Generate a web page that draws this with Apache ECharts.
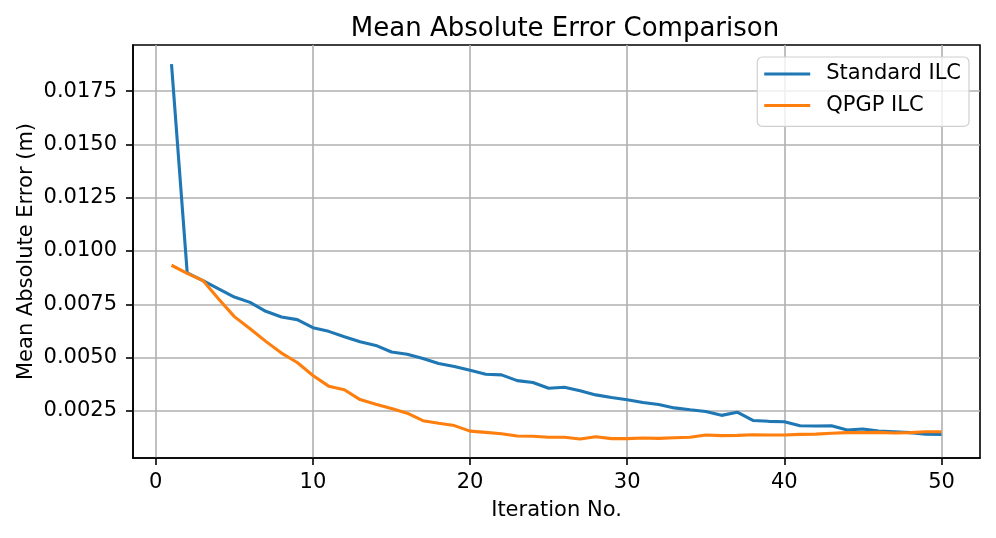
<!DOCTYPE html>
<html>
<head>
<meta charset="utf-8">
<script src="https://cdn.jsdelivr.net/npm/echarts@6/dist/echarts.min.js"></script>
<style>
html,body{margin:0;padding:0;background:#fff;}
#chart{width:996px;height:538px;}
</style>
</head>
<body>
<div id="chart"></div>
<script>
const iterations = Array.from({length: 50}, (_, i) => i + 1);
const standardILC = [0.01876, 0.00897, 0.00861, 0.00822, 0.00784, 0.00759, 0.00717, 0.00690, 0.00678, 0.00640,
  0.00623, 0.00598, 0.00574, 0.00557, 0.00526, 0.00516, 0.00496, 0.00472, 0.00458, 0.00440,
  0.00422, 0.00419, 0.00392, 0.00383, 0.00356, 0.00361, 0.00344, 0.00325, 0.00313, 0.00302,
  0.00289, 0.00280, 0.00264, 0.00255, 0.00247, 0.00229, 0.00244, 0.00205, 0.00201, 0.00199,
  0.00180, 0.00179, 0.00180, 0.00160, 0.00165, 0.00155, 0.00152, 0.00148, 0.00141, 0.00140];
const qpgpILC = [0.00933, 0.00895, 0.00861, 0.00775, 0.00692, 0.00635, 0.00576, 0.00521, 0.00477, 0.00416,
  0.00366, 0.00349, 0.00303, 0.00281, 0.00261, 0.00239, 0.00204, 0.00192, 0.00181, 0.00155,
  0.00149, 0.00143, 0.00132, 0.00131, 0.00126, 0.00126, 0.00118, 0.00129, 0.00120, 0.00120,
  0.00123, 0.00121, 0.00124, 0.00126, 0.00137, 0.00134, 0.00135, 0.00138, 0.00137, 0.00137,
  0.00140, 0.00141, 0.00145, 0.00148, 0.00148, 0.00149, 0.00146, 0.00148, 0.00152, 0.00152];
const xTicks = [0, 10, 20, 30, 40, 50];
const yTicks = [0.0025, 0.0050, 0.0075, 0.0100, 0.0125, 0.0150, 0.0175];

const chart = echarts.init(document.getElementById('chart'), null, {renderer: 'canvas'});
const font = 'DejaVu Sans';
const pairs = (ys) => iterations.map((x, i) => [x, ys[i]]);
chart.setOption({
  animation: false,
  backgroundColor: '#ffffff',
  title: {
    text: 'Mean Absolute Error Comparison',
    left: 560, top: 11, textAlign: 'center',
    textStyle: {fontFamily: font, fontSize: 26, fontWeight: 'normal', color: '#000'}
  },
  legend: {
    orient: 'vertical', right: 27, top: 57,
    itemWidth: 46, itemHeight: 3, itemGap: 7.4,
    icon: 'rect',
    padding: [5, 8, 9, 7],
    backgroundColor: 'rgba(255,255,255,0.8)',
    borderColor: '#d0d0d0', borderWidth: 1.2, borderRadius: 5,
    textStyle: {fontFamily: font, fontSize: 21, color: '#000', lineHeight: 24, padding: [0, 0, 0, 11]},
    data: ['Standard ILC', 'QPGP ILC']
  },
  grid: {left: 133, right: 16, top: 45, bottom: 80, show: true, borderColor: '#000', borderWidth: 1.6, backgroundColor: 'transparent'},
  xAxis: {
    type: 'value', min: -1.45, max: 52.45,
    name: 'Iteration No.', nameLocation: 'middle', nameGap: 42, nameMoveOverlap: false,
    nameTextStyle: {fontFamily: font, fontSize: 21, color: '#000'},
    axisLine: {show: true, onZero: false, lineStyle: {color: '#000', width: 1.6}},
    axisTick: {show: true, length: 7, lineStyle: {color: '#000', width: 1.6}, customValues: xTicks},
    axisLabel: {fontFamily: font, fontSize: 21, color: '#000', margin: 14, customValues: xTicks},
    splitLine: {show: true, lineStyle: {color: '#b0b0b0', width: 1.6}}
  },
  yAxis: {
    type: 'value', min: 0.00029, max: 0.01966,
    name: 'Mean Absolute Error (m)', nameLocation: 'middle', nameGap: 96, nameRotate: 90, nameMoveOverlap: false,
    nameTextStyle: {fontFamily: font, fontSize: 21, color: '#000'},
    axisLine: {show: true, onZero: false, lineStyle: {color: '#000', width: 1.6}},
    axisTick: {show: true, length: 7, lineStyle: {color: '#000', width: 1.6}, customValues: yTicks},
    axisLabel: {fontFamily: font, fontSize: 21, color: '#000', margin: 16, customValues: yTicks,
      formatter: (v) => v.toFixed(4)},
    splitLine: {show: true, lineStyle: {color: '#b0b0b0', width: 1.6}}
  },
  series: [
    {name: 'Standard ILC', type: 'line', data: pairs(standardILC), showSymbol: false, symbol: 'none',
     lineStyle: {color: '#1f77b4', width: 3.1}, itemStyle: {color: '#1f77b4'}, z: 3},
    {name: 'QPGP ILC', type: 'line', data: pairs(qpgpILC), showSymbol: false, symbol: 'none',
     lineStyle: {color: '#ff7f0e', width: 3.1}, itemStyle: {color: '#ff7f0e'}, z: 4}
  ]
});
</script>
</body>
</html>
